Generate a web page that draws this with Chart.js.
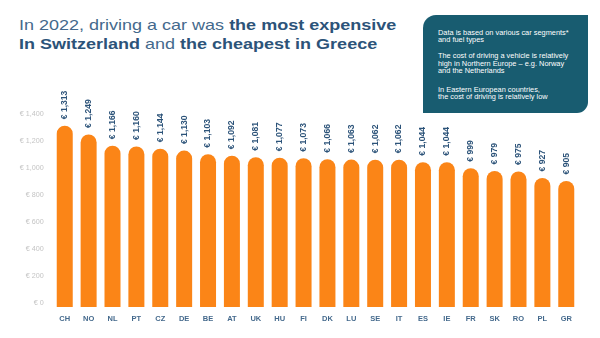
<!DOCTYPE html>
<html>
<head>
<meta charset="utf-8">
<script src="https://cdn.jsdelivr.net/npm/chart.js@4/dist/chart.umd.min.js"></script>
<style>
  html, body { margin: 0; padding: 0; background: #fff; }
  body { width: 600px; height: 338px; position: relative; overflow: hidden;
         font-family: "Liberation Sans", Arial, sans-serif; }
  #title { position: absolute; left: 19px; top: 16.3px; margin: 0; white-space: nowrap;
           font-size: 18px; line-height: 22.7px; font-weight: normal; color: #44698c;
           transform: scaleY(0.82); transform-origin: 0 0; }
  #title b { color: #2c5379; }
  #note { position: absolute; left: 423px; top: 15px; width: 165px; height: 98px; box-sizing: border-box;
          background: #185c70; border-radius: 13px 0 11px 0; color: #fff;
          padding: 14px 4px 0 15px; font-size: 7.4px; line-height: 7.3px; white-space: nowrap; }
  #note p { margin: 0; }
  #note p.gap1 { margin-top: 8.8px; }
  #note p.gap2 { margin-top: 11.5px; }
  #wrap { position: absolute; left: 0; top: 0; width: 600px; height: 338px; }
</style>
</head>
<body>
<h1 id="title">In 2022, driving a car was <b>the most expensive</b><br><b>In Switzerland</b> and <b>the cheapest in Greece</b></h1>
<div id="note">
  <p>Data is based on various car segments*<br>and fuel types</p>
  <p class="gap1">The cost of driving a vehicle is relatively<br>high in Northern Europe – e.g. Norway<br>and the Netherlands</p>
  <p class="gap2">In Eastern European countries,<br>the cost of driving is relatively low</p>
</div>
<div id="wrap"><canvas id="c" width="600" height="338"></canvas></div>
<script>
// Annual cost of driving a car in 2022, EUR
const countries = ["CH","NO","NL","PT","CZ","DE","BE","AT","UK","HU","FI","DK","LU","SE","IT","ES","IE","FR","SK","RO","PL","GR"];
const costs = [1313,1249,1166,1160,1144,1130,1103,1092,1081,1077,1073,1066,1063,1062,1062,1044,1044,999,979,975,927,905];
const axisMax = 1400;
const axisStep = 200;

const fmt = v => "€ " + v.toLocaleString("en-US");

// Rotated value label above each bar
const valueLabels = {
  id: "valueLabels",
  afterDatasetsDraw(chart) {
    const ctx = chart.ctx;
    const meta = chart.getDatasetMeta(0);
    ctx.save();
    ctx.fillStyle = "#2c5379";
    ctx.font = "bold 8.6px 'Liberation Sans', Arial, sans-serif";
    ctx.textAlign = "left";
    ctx.textBaseline = "middle";
    meta.data.forEach((bar, i) => {
      ctx.save();
      ctx.translate(bar.x, bar.y - 6.5);
      ctx.rotate(-Math.PI / 2);
      ctx.fillText(fmt(costs[i]), 0, 0);
      ctx.restore();
    });
    ctx.restore();
  }
};

new Chart(document.getElementById("c"), {
  type: "bar",
  data: {
    labels: countries,
    datasets: [{
      data: costs,
      base: -26,
      clip: false,
      backgroundColor: "#fb8517",
      borderWidth: 0,
      borderSkipped: "bottom",
      borderRadius: { topLeft: 8, topRight: 8, bottomLeft: 0, bottomRight: 0 },
      barPercentage: 0.67,
      categoryPercentage: 1
    }]
  },
  options: {
    responsive: false,
    animation: false,
    devicePixelRatio: 1,
    layout: { padding: { left: 0, right: 21.8, top: 114, bottom: 9.5 } },
    plugins: { legend: { display: false }, tooltip: { enabled: false } },
    scales: {
      x: {
        grid: { display: false, drawTicks: false },
        border: { display: false },
        ticks: {
          color: "#44698c",
          font: { family: "'Liberation Sans', Arial, sans-serif", size: 7.5, weight: "bold" },
          padding: 11,
          maxRotation: 0,
          autoSkip: false
        },
        afterFit(scale) { scale.height = 25; }
      },
      y: {
        min: 0,
        max: axisMax,
        grid: { display: false, drawTicks: false },
        border: { display: false },
        ticks: {
          stepSize: axisStep,
          color: "#c4c4c4",
          font: { family: "'Liberation Sans', Arial, sans-serif", size: 7.2 },
          padding: 9,
          callback: v => fmt(v)
        },
        afterFit(scale) { scale.width = 52.8; }
      }
    }
  },
  plugins: [valueLabels]
});
</script>
</body>
</html>
